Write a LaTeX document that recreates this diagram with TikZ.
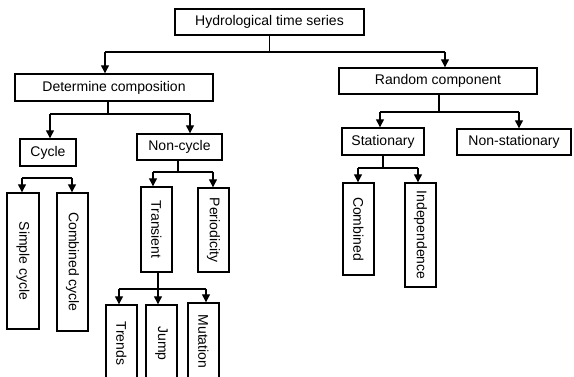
\documentclass[tikz,border=0pt]{standalone}
\usepackage{fontspec}
\setmainfont{Liberation Sans}
\usetikzlibrary{arrows.meta}
\begin{document}
\begin{tikzpicture}[x=1pt,y=-1pt,
  box/.style={draw, line width=1.4pt, inner sep=0pt, font=\fontsize{14}{16}\selectfont},
  link/.style={line width=1.3pt},
  arr/.style={line width=1.3pt, -{Triangle[length=8pt,width=8pt]}}]
\useasboundingbox (0,0) rectangle (574,377);
\clip (0,0) rectangle (574,377);

% top level
\node[box, minimum width=189pt, minimum height=26pt] (root) at (269.5,22) {Hydrological time series};
\node[box, minimum width=198pt, minimum height=27pt] (det) at (114,87.5) {Determine composition};
\node[box, minimum width=198pt, minimum height=26pt] (rand) at (438,81) {Random component};

% deterministic branch
\node[box, minimum width=56pt, minimum height=27pt] (cyc) at (48,152.5) {Cycle};
\node[box, minimum width=85pt, minimum height=26pt] (noncyc) at (179.5,147) {Non-cycle};
\node[box, minimum width=32pt, minimum height=136pt] (simple) at (23,261) {\rotatebox{-90}{Simple cycle}};
\node[box, minimum width=31pt, minimum height=138pt] (combcyc) at (72.5,262) {\rotatebox{-90}{Combined cycle}};
\node[box, minimum width=31pt, minimum height=85pt] (trans) at (156.5,229.5) {\rotatebox{-90}{Transient}};
\node[box, minimum width=31pt, minimum height=84pt] (period) at (213.5,230) {\rotatebox{-90}{Periodicity}};
\node[box, minimum width=31pt, minimum height=77pt] (trends) at (121.5,343.5) {\rotatebox{-90}{Trends}};
\node[box, minimum width=31pt, minimum height=77pt] (jump) at (161.5,343.5) {\rotatebox{-90}{Jump}};
\node[box, minimum width=31pt, minimum height=77pt] (mut) at (203.5,341.5) {\rotatebox{-90}{Mutation}};

% random branch
\node[box, minimum width=82pt, minimum height=27pt] (stat) at (383,141.5) {Stationary};
\node[box, minimum width=114pt, minimum height=26pt] (nonstat) at (514,142) {Non-stationary};
\node[box, minimum width=31pt, minimum height=92pt] (combined) at (358.5,229) {\rotatebox{-90}{Combined}};
\node[box, minimum width=31pt, minimum height=104pt] (indep) at (420.5,235) {\rotatebox{-90}{Independence}};

% root split
\coordinate (r0) at (269.5,52);
\coordinate (rl) at (105,52);
\coordinate (rr) at (445,52);
\draw[link] (r0 |- root.south) -- (r0);
\draw[link] (rl) -- (rr);
\draw[arr] (rl) -- (rl |- det.north);
\draw[arr] (rr) -- (rr |- rand.north);

% determine composition split
\coordinate (d0) at (108,114);
\coordinate (dl) at (50,114);
\coordinate (dr) at (190,114);
\draw[link] (d0 |- det.south) -- (d0);
\draw[link] (dl) -- (dr);
\draw[arr] (dl) -- (dl |- cyc.north);
\draw[arr] (dr) -- (dr |- noncyc.north);

% cycle split
\coordinate (cl) at (22,178);
\coordinate (cr) at (72,178);
\draw[link] (cl) -- (cr);
\draw[arr] (cl) -- (cl |- simple.north);
\draw[arr] (cr) -- (cr |- combcyc.north);

% non-cycle split
\coordinate (n0) at (178,172);
\coordinate (nl) at (153,172);
\coordinate (nr) at (213,172);
\draw[link] (n0 |- noncyc.south) -- (n0);
\draw[link] (nl) -- (nr);
\draw[arr] (nl) -- (nl |- trans.north);
\draw[arr] (nr) -- (nr |- period.north);

% transient split
\coordinate (t0) at (158,289);
\coordinate (tl) at (119,289);
\coordinate (tr) at (206,289);
\draw[link] (t0 |- trans.south) -- (t0);
\draw[link] (tl) -- (tr);
\draw[arr] (tl) -- (tl |- trends.north);
\draw[arr] (t0) -- (t0 |- jump.north);
\draw[arr] (tr) -- (tr |- mut.north);

% random component split
\coordinate (a0) at (439,112);
\coordinate (al) at (380,112);
\coordinate (ar) at (519,112);
\draw[link] (a0 |- rand.south) -- (a0);
\draw[link] (al) -- (ar);
\draw[arr] (al) -- (al |- stat.north);
\draw[arr] (ar) -- (ar |- nonstat.north);

% stationary split
\coordinate (s0) at (383,168);
\coordinate (sl) at (358,168);
\coordinate (sr) at (418,168);
\draw[link] (s0 |- stat.south) -- (s0);
\draw[link] (sl) -- (sr);
\draw[arr] (sl) -- (sl |- combined.north);
\draw[arr] (sr) -- (sr |- indep.north);
\end{tikzpicture}
\end{document}
